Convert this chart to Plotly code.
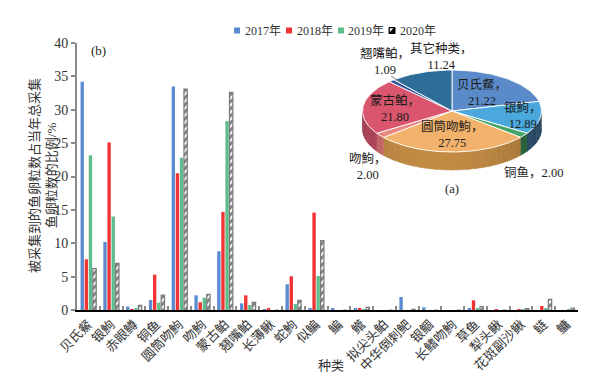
import numpy as np
import plotly.graph_objects as go

# ---------------- data ----------------
categories = ["贝氏䱗", "银鮈", "赤眼鳟", "铜鱼", "圆筒吻鮈", "吻鮈", "蒙古鲌", "翘嘴鲌",
              "长薄鳅", "蛇鮈", "似鳊", "鳊", "鳤", "拟尖头鲌", "中华倒刺鲃", "银鲴",
              "长鳍吻鮈", "草鱼", "犁头鳅", "花斑副沙鳅", "鲢", "鳙"]
v2017 = [34.2, 10.2, 0.5, 1.5, 33.5, 2.2, 8.8, 1.0, 0.1, 3.85, 0.2, 0.3, 0.3, 0, 1.95, 0.4, 0, 0.3, 0, 0, 0, 0]
v2018 = [7.6, 25.1, 0.1, 5.3, 20.5, 1.15, 14.7, 2.2, 0.2, 5.05, 14.6, 0, 0.3, 0, 0, 0, 0, 1.45, 0.1, 0.1, 0.6, 0]
v2019 = [23.2, 14.0, 0.2, 1.1, 22.8, 1.85, 28.3, 0.75, 0, 0.9, 5.1, 0, 0.1, 0, 0, 0, 0, 0.3, 0, 0.1, 0.3, 0.1]
v2020 = [6.2, 7.0, 0.7, 2.25, 33.1, 2.35, 32.6, 1.15, 0, 1.45, 10.4, 0, 0.4, 0, 0.1, 0, 0, 0.5, 0, 0.2, 1.6, 0.3]
years = ["2017年", "2018年", "2019年", "2020年"]

pie_labels = ["贝氏䱗", "银鮈", "铜鱼", "圆筒吻鮈", "吻鮈", "蒙古鲌", "翘嘴鲌", "其它种类"]
pie_values = [21.22, 12.89, 2.00, 27.75, 2.00, 21.80, 1.09, 11.24]

# ---------------- style ----------------
SERIF = "Liberation Serif, Noto Sans CJK SC, serif"
bar_colors = ["#5B8BD0", "#F03333", "#5DBE8C"]
pie_colors = ["#5A8AC8", "#4BA8DC", "#46A66A", "#F2B26B", "#E8877E", "#D9566E", "#2E4E9E", "#2C6E97"]
wall_colors = ["#3E6290", "#2F5573", "#2E6B40", "#B07F3E", "#C06464", "#B0455A", "#22387A", "#1F5070"]

# the page body adds an 8px margin, so the figure is drawn 8px right/down
OFF = 8
W, H = 614 - 2 * OFF, 382 - 2 * OFF
# plot area in screenshot pixels
L, R, T, B = 77, 578, 43, 310


def px(x):
    return (x - L) / (R - L)


def py(y):
    return (B - y) / (B - T)


fig = go.Figure()
for name, vals, col in zip(years[:3], [v2017, v2018, v2019], bar_colors):
    fig.add_trace(go.Bar(x=categories, y=vals, name=name, marker=dict(color=col, line=dict(width=0))))
fig.add_trace(go.Bar(x=categories, y=v2020, name=years[3],
                     marker=dict(color="white", line=dict(color="#7A7A7A", width=1.2),
                                 pattern=dict(shape="/", fgcolor="black", bgcolor="white",
                                              size=5, solidity=0.55))))

# ---------------- 3D-looking pie (ellipse, pixel coordinates on overlay axes) ----------------
cx, cy, a, b, depth = 452, 111, 89.5, 41, 18
total = sum(pie_values)
edges = np.concatenate([[0], np.cumsum(pie_values)]) / total * 360.0


def arc(t1, t2, dy=0.0, n=None):
    if n is None:
        n = max(int(abs(t2 - t1) / 1.5) + 2, 3)
    th = np.radians(np.linspace(t1, t2, n))
    return cx + a * np.sin(th), cy - b * np.cos(th) + dy


def shade(hexc, f):
    h = hexc.lstrip("#")
    r, g, bb = (int(h[i:i + 2], 16) for i in (0, 2, 4))
    return "rgb(%d,%d,%d)" % tuple(min(255, int(c * f)) for c in (r, g, bb))


# side walls (front half: 90..270 deg clockwise from top)
for i in range(len(pie_values)):
    lo, hi = max(edges[i], 90), min(edges[i + 1], 270)
    if lo >= hi:
        continue
    nseg = max(int((hi - lo) / 5) + 1, 1)
    segs = np.linspace(lo, hi, nseg + 1)
    for s1, s2 in zip(segs[:-1], segs[1:]):
        mid = 0.5 * (s1 + s2)
        f = 0.8 + 0.3 * np.cos(np.radians(mid - 190))
        col = shade(wall_colors[i], f)
        xt, yt = arc(s1, s2 + 0.3)
        xb, yb = arc(s2 + 0.3, s1, dy=depth)
        fig.add_trace(go.Scatter(x=np.concatenate([xt, xb]), y=np.concatenate([yt, yb]),
                                 xaxis="x2", yaxis="y2", mode="lines", fill="toself",
                                 fillcolor=col, line=dict(color=col, width=0.6),
                                 hoverinfo="skip", showlegend=False))

# top faces
for i in range(len(pie_values)):
    xa, ya = arc(edges[i], edges[i + 1])
    xs = np.concatenate([[cx], xa, [cx]])
    ys = np.concatenate([[cy], ya, [cy]])
    fig.add_trace(go.Scatter(x=xs, y=ys, xaxis="x2", yaxis="y2", mode="lines", fill="toself",
                             fillcolor=pie_colors[i], line=dict(color="rgba(255,255,255,0.9)", width=1),
                             hoverinfo="skip", showlegend=False))


def ann(x, y, text, size=12.5, color="#1a1a1a", **kw):
    d = dict(x=px(x), y=py(y), xref="paper", yref="paper", showarrow=False,
             xanchor="center", yanchor="middle", text=text,
             font=dict(family=SERIF, size=size, color=color))
    d.update(kw)
    return d


annotations = []
# inside labels placed at slice mid-angles
inside = {0: 0.55, 1: 0.8, 3: 0.58, 5: 0.64}
for i, r in inside.items():
    mid = np.radians(0.5 * (edges[i] + edges[i + 1]))
    x = cx + a * r * np.sin(mid)
    y = cy - b * r * np.cos(mid)
    annotations.append(ann(x, y, "%s，<br>%.2f" % (pie_labels[i], pie_values[i])))
# outside labels
outside = [(7, 441, 56, "<br>"), (6, 385, 62, "<br>"), (4, 368, 167, "<br>"), (2, 533, 172, "")]
for i, x, y, sep in outside:
    annotations.append(ann(x, y, "%s，%s%.2f" % (pie_labels[i], sep, pie_values[i])))
annotations.append(ann(452, 189, "(a)"))
annotations.append(ann(98, 51, "(b)", size=13))
# axis titles
annotations.append(ann(331, 365, "种类", size=13, color="#333"))
annotations.append(ann(43, 176, "被采集到的鱼卵粒数占当年总采集<br>鱼卵粒数的比例/%", size=13,
                       color="#333", textangle=-90))

# legend (manual, compact like the reference)
shapes = []
leg_sq = [234, 286, 338, 389]
leg_tx = [243, 295, 346, 398]
for k in range(4):
    x0 = leg_sq[k]
    if k < 3:
        shapes.append(dict(type="rect", xref="paper", yref="paper", x0=px(x0), x1=px(x0 + 6),
                           y0=py(33.5), y1=py(27.5), fillcolor=bar_colors[k], line=dict(width=0)))
    else:
        shapes.append(dict(type="rect", xref="paper", yref="paper", x0=px(x0), x1=px(x0 + 6),
                           y0=py(33.5), y1=py(27.5), fillcolor="black", line=dict(color="black", width=1)))
        shapes.append(dict(type="path", xref="paper", yref="paper",
                           path="M %f %f L %f %f L %f %f Z" % (px(x0 + 0.8), py(28.3), px(x0 + 4.5), py(28.3),
                                                               px(x0 + 0.8), py(32)),
                           fillcolor="white", line=dict(width=0)))
    annotations.append(ann(leg_tx[k], 30.5, years[k], size=12, color="#333", xanchor="left"))
# leader line for the small slice label
shapes.append(dict(type="line", xref="paper", yref="paper", x0=px(391), y0=py(76), x1=px(400), y1=py(82),
                   line=dict(color="#888", width=1)))

fig.update_layout(
    width=W, height=H, autosize=False,
    margin=dict(l=L - OFF, r=W - (R - OFF), t=T - OFF, b=H - (B - OFF), pad=0),
    paper_bgcolor="white", plot_bgcolor="white",
    barmode="group", bargap=0.28, bargroupgap=0.18,
    showlegend=False,
    font=dict(family=SERIF, color="#333"),
    xaxis=dict(type="category", categoryorder="array", categoryarray=categories,
               range=[-0.5, len(categories) - 0.5], showline=True, linecolor="black", linewidth=1.5,
               ticks="inside", tickson="boundaries", ticklen=4, tickwidth=2, tickcolor="#8a8a8a",
               tickangle=-45, tickfont=dict(family=SERIF, size=13, color="#333"),
               showgrid=False, zeroline=False, fixedrange=True, automargin=False),
    yaxis=dict(range=[0, 40], dtick=5, showline=True, linecolor="#8a8a8a", linewidth=2,
               ticks="outside", ticklen=4, tickwidth=2, tickcolor="#8a8a8a",
               tickfont=dict(family=SERIF, size=14, color="#333"),
               showgrid=False, zeroline=False, fixedrange=True, automargin=False),
    xaxis2=dict(overlaying="x", anchor="y2", range=[L, R], visible=False, fixedrange=True),
    yaxis2=dict(overlaying="y", anchor="x2", range=[B, T], visible=False, fixedrange=True),
    annotations=annotations,
    shapes=shapes,
)

fig.write_html("out.html")
